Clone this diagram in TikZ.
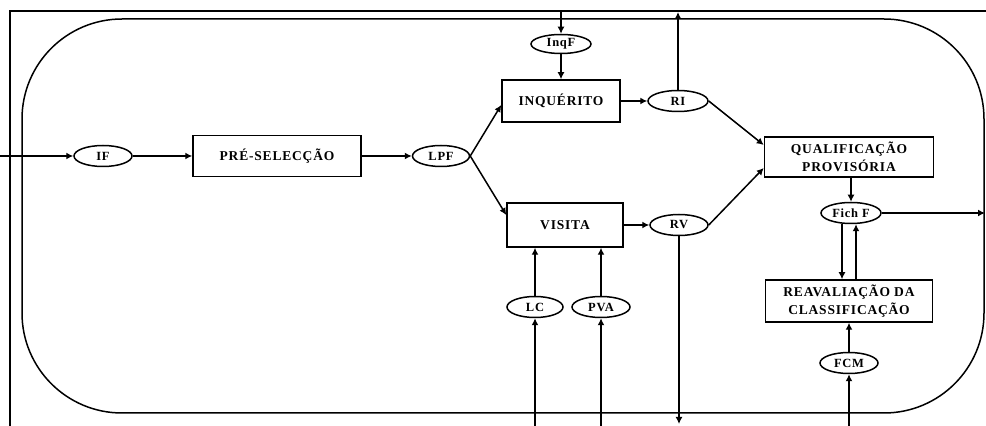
\documentclass[tikz,border=0pt]{standalone}
\usepackage{fontspec}
\setmainfont{Liberation Serif}
\newfontfamily\boxfont{Liberation Serif}[LetterSpace=6]
\usepackage{tikz}
\usetikzlibrary{arrows.meta,positioning,shapes.geometric}
\tikzset{
  procbox/.style={draw, line width=1.5pt, minimum width=118pt, minimum height=42pt,
    align=center, inner sep=2pt, font=\boxfont\bfseries\fontsize{13.5}{18}\selectfont},
  filenode/.style={ellipse, draw, line width=1.5pt, minimum width=58pt, minimum height=21pt,
    inner sep=0pt, font=\boxfont\bfseries\fontsize{12.5}{13}\selectfont},
  flow/.style={-{Latex[length=7pt,width=7pt]}, line width=1.5pt},
  frame/.style={line width=1.5pt}
}

\begin{document}
\begin{tikzpicture}[x=1pt, y=1pt, node distance=25pt and 27pt]
\useasboundingbox (0,0) rectangle (986,426);

% outer frame and system boundary
\draw[frame] (10,0) -- (10,415) -- (986,415);
\draw[frame, rounded corners=100pt] (22,13) rectangle (984,407);

% main flow
\node[filenode] (IF) at (103,270) {IF};
\node[procbox, minimum width=168pt, minimum height=41pt] (pre) at (277,270) {PRÉ-SELECÇÃO};
\node[filenode, minimum width=57pt] (LPF) at (441,270) {LPF};

\node[procbox] (inq) at (561,325) {INQUÉRITO};
\node[filenode, minimum width=60pt, minimum height=19pt, above=of inq] (InqF) {InqF};
\node[filenode, minimum width=60pt] (RI) at (678,325) {RI};

\node[procbox, minimum width=116pt, minimum height=44pt] (vis) at (565,201) {VISITA};
\node[filenode] (RV) at (679,201) {RV};
\node[filenode, minimum width=56pt] (LC) at (535,119) {LC};
\node[filenode] (PVA) at (601,119) {PVA};

\node[procbox, minimum width=169pt, minimum height=40pt] (qual) at (849,269) {QUALIFICAÇÃO\\PROVISÓRIA};
\node[filenode, minimum width=60pt] (fichF) at (851,213) {Fich F};
\node[procbox, minimum width=167pt, minimum height=42pt] (reav) at (849,125) {REAVALIAÇÃO DA\\CLASSIFICAÇÃO};
\node[filenode] (FCM) at (849,63) {FCM};

% free ends on the frame
\coordinate (inL) at (0,270);
\coordinate (topInq) at (561,415);
\coordinate (topRI) at (678,414);
\coordinate (botRV) at (679,2);
\coordinate (outF) at (985,213);
\coordinate (botLC) at (535,0);
\coordinate (botPVA) at (601,0);
\coordinate (botFCM) at (849,0);

\draw[flow] (inL) -- (IF);
\draw[flow] (IF) -- (pre);
\draw[flow] (pre) -- (LPF);
\draw[flow] (LPF.east) -- ([yshift=-4pt]inq.west);
\draw[flow] (LPF.east) -- ([yshift=10pt]vis.west);

\draw[flow] (topInq) -- (InqF);
\draw[flow] (InqF) -- (inq);
\draw[flow] (inq) -- (RI);
\draw[flow] (RI.north) -- (topRI);
\draw[flow] (RI.east) -- ([yshift=12pt]qual.west);

\draw[flow] (vis) -- (RV);
\draw[flow] (RV.east) -- ([yshift=-11pt]qual.west);
\draw[flow] (RV.south) -- (botRV);
\draw[flow] (botLC) -- (LC);
\draw[flow] (LC) -- (LC |- vis.south);
\draw[flow] (botPVA) -- (PVA);
\draw[flow] (PVA) -- (PVA |- vis.south);

\draw[flow] (qual.south -| fichF) -- (fichF);
\draw[flow] (fichF) -- (outF);
\draw[flow] ([xshift=-9pt]fichF.south) -- ([xshift=-9pt]fichF.south |- reav.north);
\draw[flow] ([xshift=5pt]fichF.south |- reav.north) -- ([xshift=5pt]fichF.south);
\draw[flow] (FCM) -- (reav);
\draw[flow] (botFCM) -- (FCM);
\end{tikzpicture}
\end{document}
